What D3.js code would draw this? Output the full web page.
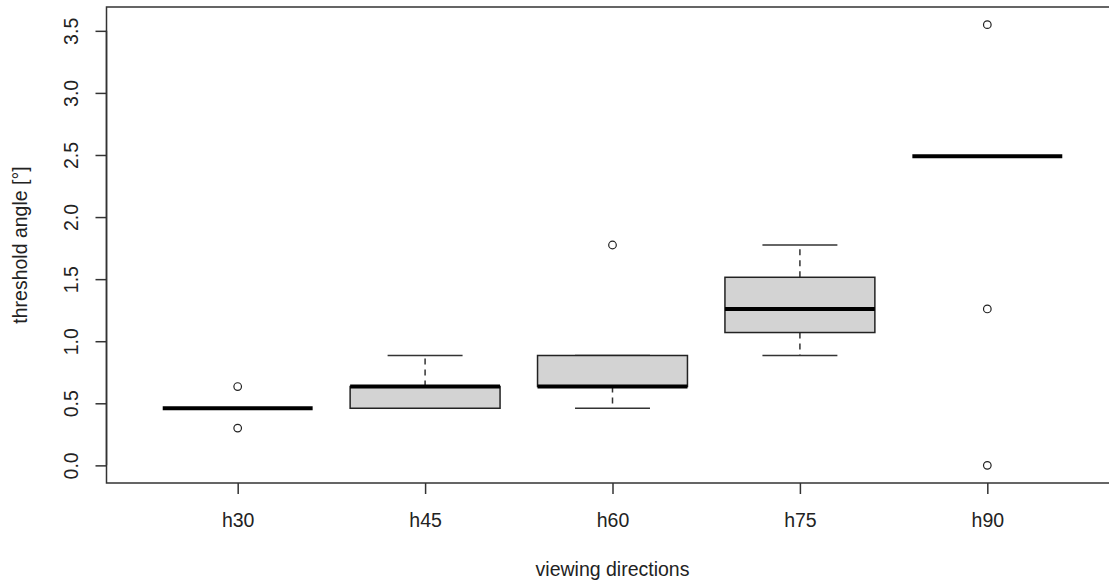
<!DOCTYPE html>
<html>
<head>
<meta charset="utf-8">
<script src="https://cdnjs.cloudflare.com/ajax/libs/d3/7.8.5/d3.min.js"></script>
<style>
  html, body { margin: 0; padding: 0; background: #fff; }
  svg { display: block; }
  text { font-family: "Liberation Sans", Arial, sans-serif; fill: #222; }
</style>
</head>
<body>
<svg id="chart" width="1109" height="583"></svg>
<script>
// ---- data ----
const categories   = ["h30", "h45", "h60", "h75", "h90"];
const whiskerLow   = [0.46, 0.46, 0.46, 0.885, 2.49];
const q1           = [0.46, 0.46, 0.635, 1.07, 2.49];
const medians      = [0.46, 0.635, 0.635, 1.26, 2.49];
const q3           = [0.46, 0.635, 0.885, 1.515, 2.49];
const whiskerHigh  = [0.46, 0.885, 0.885, 1.775, 2.49];
const outliers     = [[0.635, 0.30], [], [1.775], [], [3.55, 1.26, 0.0]];
const yTickValues  = [0.0, 0.5, 1.0, 1.5, 2.0, 2.5, 3.0, 3.5];
const xLabel = "viewing directions";
const yLabel = "threshold angle [°]";

// ---- layout ----
const svg = d3.select("#chart");
const FS = 19.5;
const x = d3.scaleLinear().domain([0.3, 5.7]).range([106.5, 1118.5]);
const y = d3.scaleLinear().domain([-0.142, 3.692]).range([483, 7]);
const boxW = x(0.8) - x(0);
const capW = boxW / 2;
const ink = "#333";

const rows = categories.map((c, i) => ({
  c, i, pos: i + 1,
  lo: whiskerLow[i], q1: q1[i], med: medians[i], q3: q3[i], hi: whiskerHigh[i],
  out: outliers[i]
}));

const g = svg.append("g");

// whiskers (dashed) and caps
rows.forEach(d => {
  const cx = x(d.pos);
  if (d.hi > d.q3) {
    g.append("line").attr("x1", cx).attr("x2", cx).attr("y1", y(d.q3)).attr("y2", y(d.hi))
      .attr("stroke", ink).attr("stroke-width", 1.5).attr("stroke-dasharray", "6,5");
  }
  if (d.lo < d.q1) {
    g.append("line").attr("x1", cx).attr("x2", cx).attr("y1", y(d.q1)).attr("y2", y(d.lo))
      .attr("stroke", ink).attr("stroke-width", 1.5).attr("stroke-dasharray", "6,5");
  }
  if (d.hi !== d.med || d.lo !== d.med) {
    g.append("line").attr("x1", cx - capW / 2).attr("x2", cx + capW / 2)
      .attr("y1", y(d.hi)).attr("y2", y(d.hi)).attr("stroke", ink).attr("stroke-width", 1.5);
    g.append("line").attr("x1", cx - capW / 2).attr("x2", cx + capW / 2)
      .attr("y1", y(d.lo)).attr("y2", y(d.lo)).attr("stroke", ink).attr("stroke-width", 1.5);
  }
  // box
  if (d.q3 > d.q1) {
    g.append("rect").attr("x", cx - boxW / 2).attr("width", boxW)
      .attr("y", y(d.q3)).attr("height", y(d.q1) - y(d.q3))
      .attr("fill", "#d3d3d3").attr("stroke", "#222").attr("stroke-width", 1.5);
  }
  // median
  g.append("line").attr("x1", cx - boxW / 2).attr("x2", cx + boxW / 2)
    .attr("y1", y(d.med)).attr("y2", y(d.med))
    .attr("stroke", "#000").attr("stroke-width", 4);
  // outliers
  d.out.forEach(v => {
    g.append("circle").attr("cx", cx).attr("cy", y(v)).attr("r", 3.8)
      .attr("fill", "none").attr("stroke", "#222").attr("stroke-width", 1.2);
  });
});

// frame
svg.append("rect")
  .attr("x", x(0.3)).attr("y", y(3.692))
  .attr("width", x(5.7) - x(0.3)).attr("height", y(-0.142) - y(3.692))
  .attr("fill", "none").attr("stroke", ink).attr("stroke-width", 1.5);

// y axis
const yAxis = svg.append("g").attr("transform", `translate(${x(0.3)},0)`)
  .call(d3.axisLeft(y).tickValues(yTickValues).tickFormat(d3.format(".1f")).tickSize(11));
yAxis.select(".domain").remove();
yAxis.selectAll(".tick line").attr("stroke", ink).attr("stroke-width", 1.5);
yAxis.selectAll(".tick text")
  .attr("x", null).attr("dy", null)
  .attr("transform", "translate(-29,0) rotate(-90)")
  .attr("text-anchor", "middle")
  .style("font-size", FS + "px")
  .attr("fill", "#222");
yAxis.append("line").attr("x1", 0).attr("x2", 0)
  .attr("y1", y(yTickValues[0])).attr("y2", y(yTickValues[yTickValues.length - 1]))
  .attr("stroke", ink).attr("stroke-width", 1.5);

// x axis
const xAxis = svg.append("g").attr("transform", `translate(0,${y(-0.142)})`)
  .call(d3.axisBottom(x).tickValues(rows.map(d => d.pos))
    .tickFormat((d, i) => categories[i]).tickSize(11));
xAxis.select(".domain").remove();
xAxis.selectAll(".tick line").attr("stroke", ink).attr("stroke-width", 1.5);
xAxis.selectAll(".tick text")
  .attr("y", 44).attr("dy", null)
  .style("font-size", FS + "px")
  .attr("fill", "#222");

// axis titles
svg.append("text")
  .attr("x", (x(0.3) + x(5.7)) / 2).attr("y", 576)
  .attr("text-anchor", "middle").style("font-size", FS + "px")
  .text(xLabel);
svg.append("text")
  .attr("transform", `translate(27,${(y(-0.142) + y(3.692)) / 2}) rotate(-90)`)
  .attr("text-anchor", "middle").style("font-size", FS + "px")
  .text(yLabel);
</script>
</body>
</html>
